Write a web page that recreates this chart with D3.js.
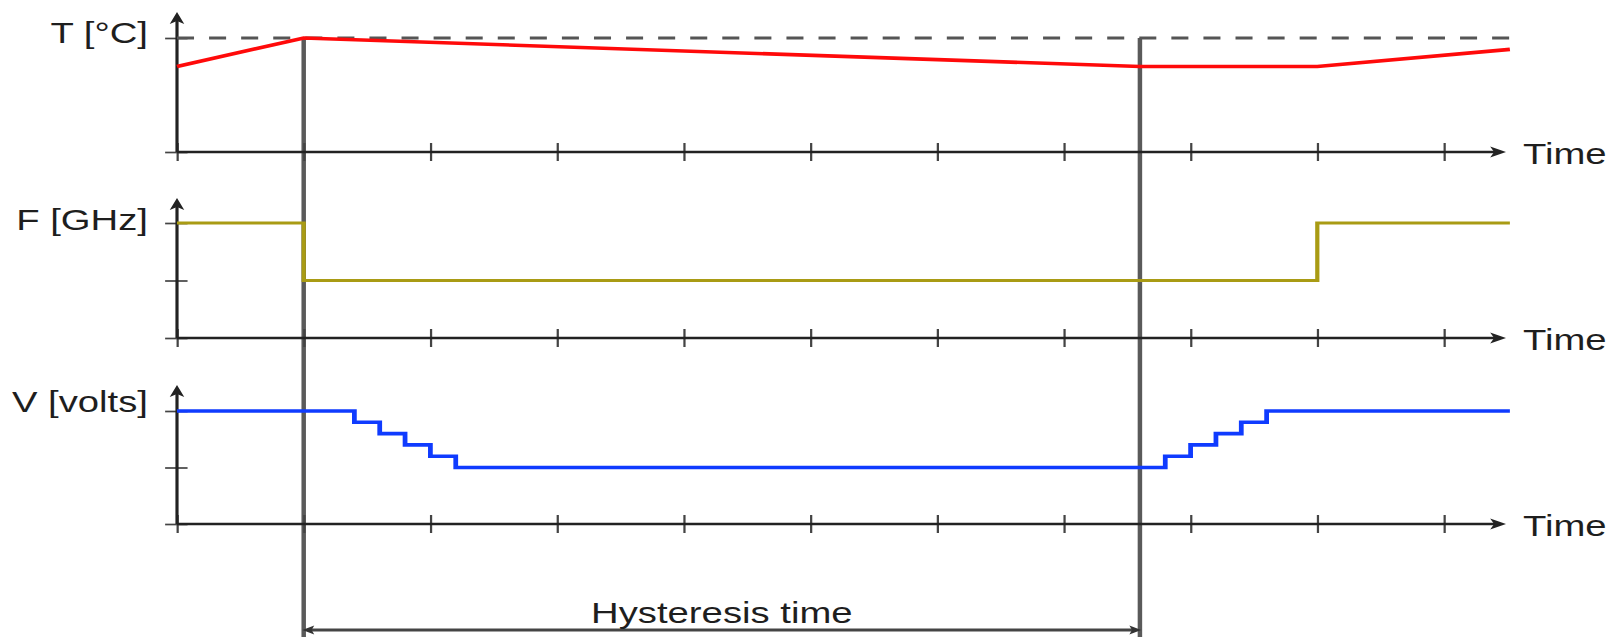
<!DOCTYPE html>
<html>
<head>
<meta charset="utf-8">
<script src="https://cdn.jsdelivr.net/npm/d3@7/dist/d3.min.js"></script>
<style>
  body { margin: 0; background: #fff; }
  text { font-family: "Liberation Sans", Arial, sans-serif; fill: #1e1e1e; }
</style>
</head>
<body>
<script>
// time axis: one tick per unit
var timeTicks = d3.range(0, 11);
var timeEnd = 10.52;

// temperature, relative to the threshold (1 = dashed line)
var tempTime = [0, 1, 7.6, 9, 10.52];
var tempValue = [0.75, 1, 0.75, 0.75, 0.9];
var tempThreshold = 1;

// frequency levels
var freqTime = [0, 1, 9, 10.52];
var freqValue = [2, 1, 2, 2];

// voltage stairs
var voltTime = [0, 1.4, 1.6, 1.8, 2.0, 2.2, 7.8, 8.0, 8.2, 8.4, 8.6, 10.52];
var voltValue = [2, 1.8, 1.6, 1.4, 1.2, 1, 1.2, 1.4, 1.6, 1.8, 2, 2];

// hysteresis window
var hystStart = 1, hystEnd = 7.6;
var hystLabel = "Hysteresis time";

var panelLabels = ["T [°C]", "F [GHz]", "V [volts]"];
var panelTicks = [[0, 1], [0, 1, 2], [0, 1, 2]];
var panelMax = [1, 2, 2];

window.onload = function() {
    var w = 1622, h = 637;
    var sx = 1.32; // the picture is stretched sideways, so is everything here

    var svg = d3.select("body").append("svg")
        .attr("width", w)
        .attr("height", h);

    var defs = svg.append("defs");
    defs.append("marker")
        .attr("id", "axisArrow")
        .attr("viewBox", "-8 -7 16 14")
        .attr("refX", 0).attr("refY", 0)
        .attr("markerWidth", 16).attr("markerHeight", 14)
        .attr("markerUnits", "userSpaceOnUse")
        .attr("orient", "auto")
        .append("path")
        .attr("d", "M6,0 L-6,-5.5 L-3,0 L-6,5.5 Z")
        .attr("fill", "#222");
    defs.append("marker")
        .attr("id", "hystArrow")
        .attr("viewBox", "-8 -6 16 12")
        .attr("refX", 0).attr("refY", 0)
        .attr("markerWidth", 16).attr("markerHeight", 12)
        .attr("markerUnits", "userSpaceOnUse")
        .attr("orient", "auto-start-reverse")
        .append("path")
        .attr("d", "M4,0 L-5,-4.5 L-3,0 L-5,4.5 Z")
        .attr("fill", "#333");

    var g = svg.append("g").attr("transform", "scale(" + sx + ",1)");

    var x = d3.scaleLinear().domain([0, 10]).range([177 / sx, 1444 / sx]);
    var arrowTipX = 1506 / sx;

    // panel layout: x-axis position, top tick position, arrow tip
    var layout = [
        { axisY: 152, topY: 38, tipY: 12, labelY: 43 },
        { axisY: 338, topY: 223, tipY: 198, labelY: 230 },
        { axisY: 524, topY: 411, tipY: 385, labelY: 412 }
    ];

    var yScales = layout.map(function(p, i) {
        return d3.scaleLinear().domain([0, panelMax[i]]).range([p.axisY, p.topY]);
    });

    // hysteresis guide lines (behind the curves)
    g.selectAll(".guide")
        .data([hystStart, hystEnd])
        .enter().append("line")
        .attr("class", "guide")
        .attr("x1", function(d) { return x(d); })
        .attr("x2", function(d) { return x(d); })
        .attr("y1", yScales[0](tempThreshold))
        .attr("y2", h)
        .style("stroke", "#5a5a5a")
        .style("stroke-width", 3.4);

    layout.forEach(function(p, i) {
        var y = yScales[i];

        // time axis ticks
        var xAxis = d3.axisBottom(x).tickValues(timeTicks).tickSize(9).tickFormat("");
        var xg = g.append("g")
            .attr("transform", "translate(0," + p.axisY + ")")
            .call(xAxis);
        xg.select(".domain").remove();
        xg.selectAll(".tick line")
            .attr("y1", -9)
            .style("stroke", "#444")
            .style("stroke-width", 1.7);

        // value axis ticks
        var yAxis = d3.axisLeft(y).tickValues(panelTicks[i]).tickSize(9).tickFormat("");
        var yg = g.append("g")
            .attr("transform", "translate(" + x(0) + ",0)")
            .call(yAxis);
        yg.select(".domain").remove();
        yg.selectAll(".tick line")
            .attr("x1", 8)
            .style("stroke", "#444")
            .style("stroke-width", 1.7);

        // axis lines with arrow heads
        g.append("line")
            .attr("x1", x(0)).attr("x2", arrowTipX - 6)
            .attr("y1", p.axisY).attr("y2", p.axisY)
            .attr("marker-end", "url(#axisArrow)")
            .style("stroke", "#222").style("stroke-width", 2.4);
        g.append("line")
            .attr("x1", x(0)).attr("x2", x(0))
            .attr("y1", p.axisY).attr("y2", p.tipY + 6)
            .attr("marker-end", "url(#axisArrow)")
            .style("stroke", "#222").style("stroke-width", 2.4);

        g.append("text")
            .attr("x", 148 / sx)
            .attr("y", p.labelY)
            .attr("text-anchor", "end")
            .style("font-size", "29px")
            .text(panelLabels[i]);

        g.append("text")
            .attr("x", 1523 / sx)
            .attr("y", p.axisY + 12)
            .style("font-size", "29px")
            .text("Time");
    });

    // temperature threshold
    g.append("line")
        .attr("x1", x(0)).attr("x2", x(timeEnd))
        .attr("y1", yScales[0](tempThreshold)).attr("y2", yScales[0](tempThreshold))
        .style("stroke", "#555")
        .style("stroke-width", 3.2)
        .style("stroke-dasharray", "12.9 11.4");

    var series = [
        { t: tempTime, v: tempValue, curve: d3.curveLinear, color: "#ff0a0a", width: 3.6 },
        { t: freqTime, v: freqValue, curve: d3.curveStepAfter, color: "#a99b14", width: 3.2 },
        { t: voltTime, v: voltValue, curve: d3.curveStepAfter, color: "#0f3bff", width: 3.6 }
    ];

    series.forEach(function(s, i) {
        var y = yScales[i];
        var line = d3.line()
            .x(function(d) { return x(d); })
            .y(function(d, j) { return y(s.v[j]); })
            .curve(s.curve);
        g.append("path")
            .attr("d", line(s.t))
            .style("fill", "none")
            .style("stroke", s.color)
            .style("stroke-width", s.width)
            .style("stroke-linejoin", "miter");
    });

    // hysteresis span
    g.append("line")
        .attr("x1", x(hystStart) + 3).attr("x2", x(hystEnd) - 3)
        .attr("y1", 630).attr("y2", 630)
        .attr("marker-start", "url(#hystArrow)")
        .attr("marker-end", "url(#hystArrow)")
        .style("stroke", "#444")
        .style("stroke-width", 3);

    g.append("text")
        .attr("x", (x(hystStart) + x(hystEnd)) / 2)
        .attr("y", 623)
        .attr("text-anchor", "middle")
        .style("font-size", "29px")
        .text(hystLabel);
};
</script>
</body>
</html>
